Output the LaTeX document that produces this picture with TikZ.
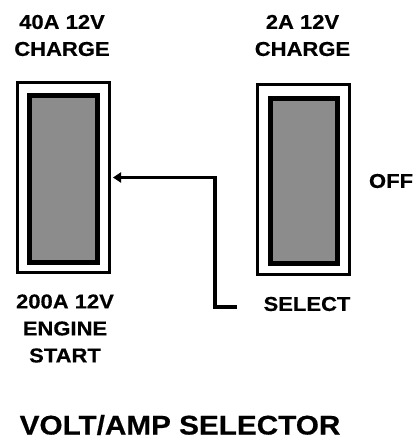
\documentclass[tikz,border=0pt]{standalone}
\usepackage{fontspec}
\newfontfamily\labfont{Liberation Sans Bold}[FakeStretch=1.1,FakeBold=0.5]
\usetikzlibrary{arrows.meta}
\tikzset{
  lab/.style={font=\labfont\fontsize{20}{27}\selectfont, align=center, inner sep=0pt},
  title/.style={font=\labfont\fontsize{27}{30}\selectfont, inner sep=0pt},
  outerbox/.style={draw, line width=3pt, fill=white, inner sep=0pt},
  innerbox/.style={draw, line width=4.5pt, fill=black!45, inner sep=0pt},
  conn/.style={line width=3.5pt, -{Triangle[length=8pt,width=10pt]}, line join=miter},
}
\begin{document}
\begin{tikzpicture}[x=1pt,y=-1pt]
\useasboundingbox (0,0) rectangle (417,441);
% left switch
\node[outerbox, minimum width=92pt, minimum height=190pt] (sw1) at (63.5,177.5) {};
\node[innerbox, minimum width=68pt, minimum height=167pt] (in1) at (63.5,179) {};
% right switch
\node[outerbox, minimum width=92pt, minimum height=190pt] (sw2) at (303.5,179.5) {};
\node[innerbox, minimum width=67pt, minimum height=165pt] (in2) at (304,181) {};
% labels
\node[lab] (l1) at (62,35.5) {40A 12V\\CHARGE};
\node[lab] (l2) at (302.5,35.5) {2A 12V\\CHARGE};
\node[lab] (off) at (391,181) {OFF};
\node[lab] (l3) at (65,328.5) {200A 12V\\ENGINE\\START};
\node[lab] (sel) at (307,304) {SELECT};
\node[title] (tt) at (180,425) {VOLT/AMP SELECTOR};
% connector
\coordinate (selend) at (237,307);
\coordinate (bend) at (215,177.5);
\draw[conn, shorten >=2pt] (selend) -| (bend) -- (sw1.east);
\end{tikzpicture}
\end{document}
